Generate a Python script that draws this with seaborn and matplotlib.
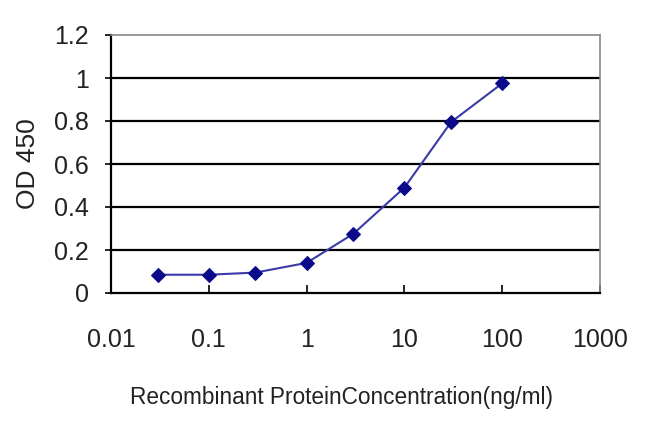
import matplotlib
matplotlib.use("Agg")
import matplotlib.pyplot as plt
import seaborn as sns
import pandas as pd

concentration = [0.03, 0.1, 0.3, 1, 3, 10, 30, 100]
od450 = [0.085, 0.085, 0.095, 0.14, 0.275, 0.49, 0.795, 0.975]
x_ticks = [0.01, 0.1, 1, 10, 100, 1000]
x_tick_labels = ["0.01", "0.1", "1", "10", "100", "1000"]
y_ticks = [0, 0.2, 0.4, 0.6, 0.8, 1.0, 1.2]
y_tick_labels = ["0", "0.2", "0.4", "0.6", "0.8", "1", "1.2"]

sns.set_style("white")
plt.rcParams['font.family'] = ['Liberation Sans', 'DejaVu Sans']

df = pd.DataFrame({"conc": concentration, "od": od450})

fig = plt.figure(figsize=(6.5, 4.32), dpi=100)
ax = fig.add_axes([111/650, 1-293/432, (600-111)/650, (293-35)/432])

for y in y_ticks[1:-1]:
    ax.axhline(y, color="black", lw=1.6, zorder=1)

sns.lineplot(data=df, x="conc", y="od", ax=ax, color="#3a3aa8", lw=1.5,
             marker="D", markersize=7.5, markerfacecolor="#0a0a8a",
             markeredgecolor="#0a0a8a", zorder=3)

ax.set_xscale("log")
ax.set_xlim(0.01, 1000)
ax.set_ylim(0, 1.2)
ax.set_xticks(x_ticks)
ax.set_xticklabels(x_tick_labels)
ax.set_yticks(y_ticks)
ax.set_yticklabels(y_tick_labels)
ax.minorticks_off()

ax.tick_params(axis="x", direction="in", length=6, width=1.2, color="black",
               pad=25, labelsize=18, labelcolor="#222222")
ax.tick_params(axis="y", direction="out", length=4, width=1.2, color="black",
               pad=12, labelsize=18, labelcolor="#222222")
ax.tick_params(axis="x", bottom=True)
ax.tick_params(axis="y", left=True)

for side in ["left", "bottom"]:
    ax.spines[side].set_color("black")
    ax.spines[side].set_linewidth(1.6)
for side in ["top", "right"]:
    ax.spines[side].set_color("#888888")
    ax.spines[side].set_linewidth(1.2)

ax.set_xlabel("Recombinant ProteinConcentration(ng/ml)",
              fontsize=16.3, color="#222222", labelpad=25)
ax.xaxis.label.set_x(0.4714)
ax.set_ylabel("OD 450", fontsize=19, color="#222222", labelpad=10)

fig.savefig("out.png", dpi=100)
